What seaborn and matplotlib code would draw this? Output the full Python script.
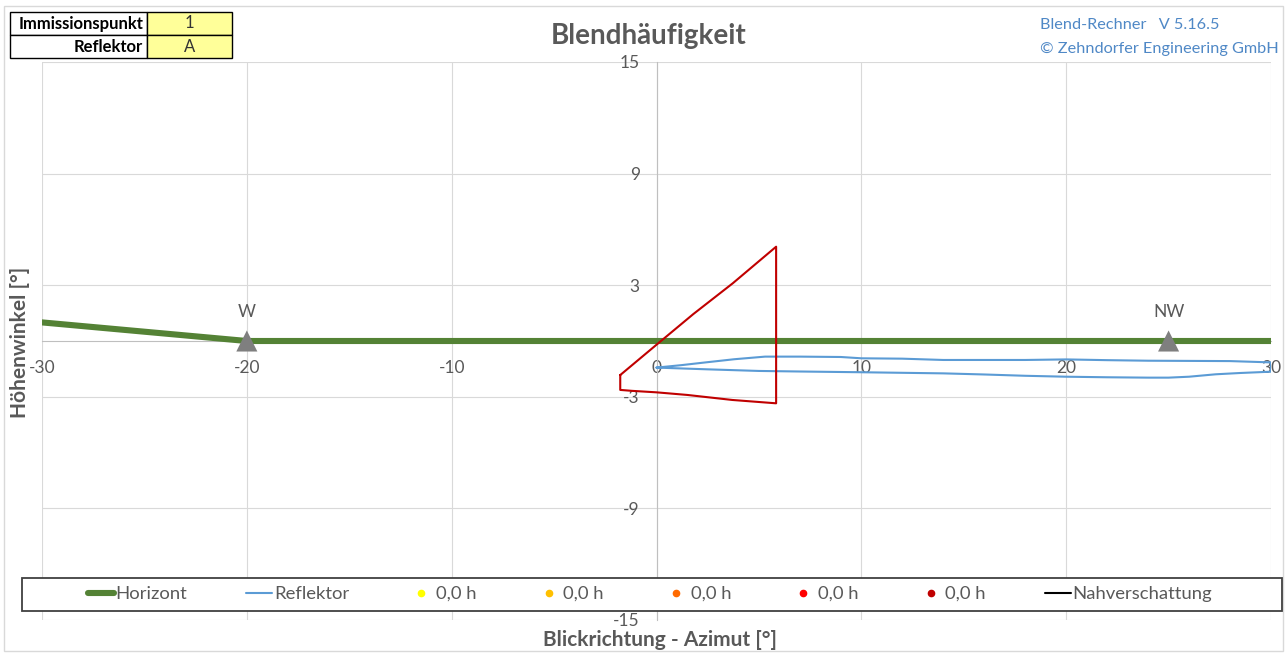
import pandas as pd
import matplotlib.pyplot as plt
import seaborn as sns
from matplotlib.lines import Line2D
from matplotlib.patches import Rectangle
from matplotlib.ticker import MultipleLocator

# Stil
sns.set_style("white")
plt.rcParams['font.family'] = ['Lato', 'DejaVu Sans']
plt.rcParams['axes.unicode_minus'] = False

W, H = 1287, 654
GRAU = "#595959"

# Daten
horizont_az = [-30, -27.5, -25, -22.5, -20, 0, 30]
horizont_el = [1.0, 0.75, 0.5, 0.25, 0.0, 0.0, 0.0]

# Reflektor-Umriss: obere Kante 0 -> 30, dann untere Kante 30 -> 0
refl_oben_az = [0, 1.2, 2.4, 3.8, 5.3, 7, 9, 10, 12, 14, 16, 18, 20, 22, 24, 26, 28, 30]
refl_oben_el = [-1.43, -1.3, -1.15, -0.98, -0.84, -0.84, -0.86, -0.93, -0.95, -1.02,
                -1.02, -1.02, -0.99, -1.03, -1.06, -1.07, -1.08, -1.15]
refl_unten_az = [0, 2.4, 5, 7, 10, 12, 14, 16, 18, 20, 22, 24, 25, 26, 27.3, 28.5, 30]
refl_unten_el = [-1.43, -1.52, -1.61, -1.64, -1.68, -1.71, -1.74, -1.8, -1.87, -1.92,
                 -1.95, -1.97, -1.97, -1.92, -1.79, -1.72, -1.65]

# roter Bereich
rot_az = [-1.77, 0.0, 1.8, 3.72, 5.84, 5.84, 3.7, 1.5, 0.0, -1.2, -1.77, -1.77]
rot_el = [-1.83, -0.2, 1.45, 3.1, 5.07, -3.35, -3.17, -2.9, -2.76, -2.68, -2.63, -1.83]

# Himmelsrichtungen
richtung_az = [-20, 25]
richtung_el = [0, 0]
richtung_txt = ["W", "NW"]

# Legende
stunden_txt = ["0,0 h"] * 5
stunden_farben = ["#FFFF00", "#FFC000", "#FF6A00", "#FF0000", "#C00000"]

tabelle_lbl = ["Immissionspunkt", "Reflektor"]
tabelle_wert = ["1", "A"]

df_hor = pd.DataFrame({"az": horizont_az, "el": horizont_el})
df_refl = pd.DataFrame({"az": refl_oben_az + refl_unten_az[::-1],
                        "el": refl_oben_el + refl_unten_el[::-1]})
df_rot = pd.DataFrame({"az": rot_az, "el": rot_el})
df_ri = pd.DataFrame({"az": richtung_az, "el": richtung_el})

fig = plt.figure(figsize=(W / 100, H / 100), dpi=100)
ax = fig.add_axes([42 / W, 1 - 620 / H, 1229 / W, 558 / H])

sns.lineplot(data=df_hor, x="az", y="el", color="#548235", linewidth=4.4,
             sort=False, estimator=None, ax=ax, label="Horizont", zorder=3)
sns.lineplot(data=df_refl, x="az", y="el", color="#5B9BD5", linewidth=1.5,
             sort=False, estimator=None, ax=ax, label="Reflektor", zorder=4)
sns.lineplot(data=df_rot, x="az", y="el", color="#C00000", linewidth=1.5,
             sort=False, estimator=None, ax=ax, legend=False, zorder=5)
sns.scatterplot(data=df_ri, x="az", y="el", marker="^", s=230, color="#7F7F7F",
                edgecolor="none", ax=ax, legend=False, zorder=6)
for az, txt in zip(richtung_az, richtung_txt):
    ax.text(az, 1.55, txt, ha="center", va="center", fontsize=12.5, color=GRAU)

ax.set_xlim(-30, 30)
ax.set_ylim(-15, 15)
ax.set_xticks(range(-30, 31, 10))
ax.set_yticks([-15, -9, -3, 3, 9, 15])
ax.yaxis.set_minor_locator(MultipleLocator(1))
ax.grid(True, which="major", color="#D9D9D9", linewidth=0.8)
ax.set_axisbelow(True)
for s in ["top", "right"]:
    ax.spines[s].set_visible(False)
ax.spines["left"].set_position(("data", 0))
ax.spines["bottom"].set_position(("data", 0))
for s in ["left", "bottom"]:
    ax.spines[s].set_color("#BFBFBF")
    ax.spines[s].set_linewidth(0.8)
ax.tick_params(axis="x", length=0, pad=14, labelsize=12.5, labelcolor=GRAU)
ax.tick_params(axis="y", which="major", length=0, pad=12, labelsize=12.5, labelcolor=GRAU)
ax.tick_params(axis="y", which="minor", length=6, direction="inout", color="#BFBFBF", width=0.8)
ax.set_xlabel("")
ax.set_ylabel("")
ax.get_legend().remove()

# Legende
handles, labels = ax.get_legend_handles_labels()
for f, t in zip(stunden_farben, stunden_txt):
    handles.append(Line2D([], [], marker="o", linestyle="none", markersize=4.5,
                          markerfacecolor=f, markeredgecolor=f))
    labels.append(t)
handles.append(Line2D([], [], color="black", linewidth=1.5))
labels.append("Nahverschattung")

fig.add_artist(Rectangle((22 / W, 1 - 611 / H), 1260 / W, 33 / H, transform=fig.transFigure,
                         facecolor="white", edgecolor="#404040", linewidth=1.3, zorder=4))
fig.legend(handles, labels, loc="center", bbox_to_anchor=(650 / W, 1 - 594 / H), ncol=8,
           frameon=False, fontsize=13.3, handlelength=1.4, handletextpad=0.1,
           columnspacing=3.2, labelcolor=GRAU)

# Texte
fig.text(649 / W, 1 - 36 / H, "Blendhäufigkeit", ha="center", va="center",
         fontsize=20, fontweight="bold", color=GRAU)
fig.text(660 / W, 1 - 640 / H, "Blickrichtung - Azimut [°]", ha="center", va="center",
         fontsize=15, fontweight="bold", color=GRAU)
fig.text(20 / W, 1 - 342 / H, "Höhenwinkel [°]", ha="center", va="center", rotation=90,
         fontsize=15, fontweight="bold", color=GRAU)
fig.text(1040 / W, 1 - 25 / H, "Blend-Rechner   V 5.16.5", ha="left", va="center",
         fontsize=11.7, color="#4F88C6")
fig.text(1040 / W, 1 - 49 / H, "© Zehndorfer Engineering GmbH", ha="left", va="center",
         fontsize=11.7, color="#4F88C6")

# Rahmen
fig.add_artist(Rectangle((4 / W, 1 - 651 / H), 1279 / W, 645 / H, transform=fig.transFigure,
                         facecolor="none", edgecolor="#D9D9D9", linewidth=1, zorder=0))

# Tabelle oben links
for i, (lbl, wert) in enumerate(zip(tabelle_lbl, tabelle_wert)):
    y0 = 1 - (12 + 23 * (i + 1)) / H
    fig.add_artist(Rectangle((10 / W, y0), 137 / W, 23 / H, transform=fig.transFigure,
                             facecolor="white", edgecolor="black", linewidth=1, zorder=5))
    fig.add_artist(Rectangle((147 / W, y0), 85 / W, 23 / H, transform=fig.transFigure,
                             facecolor="#FFFF99", edgecolor="black", linewidth=1, zorder=5))
    fig.text(143 / W, y0 + 11.5 / H, lbl, ha="right", va="center", fontsize=12,
             fontweight="bold", color="black", zorder=6)
    fig.text(189.5 / W, y0 + 11.5 / H, wert, ha="center", va="center", fontsize=12,
             color="#333333", zorder=6)

plt.savefig("out.png", dpi=100)
